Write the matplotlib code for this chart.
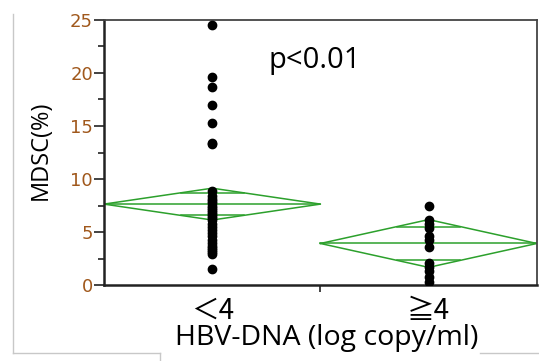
import matplotlib.pyplot as plt
from matplotlib.lines import Line2D
import numpy as np

plt.rcParams['font.family'] = ['Open Sans', 'Noto Sans CJK JP', 'DejaVu Sans']

# MDSC(%) per patient, by HBV-DNA group
low_vals = [24.5, 19.6, 18.7, 17.0, 15.3, 13.4, 13.3,
            8.9, 8.4, 8.1, 7.9, 7.7, 7.5, 7.3, 7.1, 6.9, 6.7, 6.5, 6.3, 6.1,
            5.8, 5.5, 5.2, 4.9, 4.6, 4.3, 4.0, 3.7, 3.5, 3.3, 3.1, 2.9, 1.5]
high_vals = [7.5, 6.1, 5.8, 5.4, 4.6, 4.3, 3.6, 2.1, 1.7, 1.3, 0.8, 0.3]

group_labels = ['＜4', '≧4']
group_means = [7.64, 3.93]
group_ci = [1.5, 2.25]   # half width of 95% CI

fig = plt.figure(figsize=(5.39, 3.61), dpi=100)
ax = fig.add_axes([0.193, 0.21, 0.803, 0.735])

xc = [1, 3]
for i, (m, h) in enumerate(zip(group_means, group_ci)):
    c = xc[i]
    ax.plot([c - 1, c, c + 1, c, c - 1], [m, m + h, m, m - h, m], color='#2ca02c', lw=1.1)
    ax.plot([c - 1, c + 1], [m, m], color='#2ca02c', lw=1.1)
    o = h / np.sqrt(2)
    w = 1 - o / h
    for yy in (m + o, m - o):
        ax.plot([c - w, c + w], [yy, yy], color='#2ca02c', lw=1.1)

ax.plot([1] * len(low_vals), low_vals, 'o', color='black', ms=6, zorder=3)
ax.plot([3] * len(high_vals), high_vals, 'o', color='black', ms=6, zorder=3)

ax.set_xlim(0, 4)
ax.set_ylim(0, 25)
ax.set_yticks(np.arange(0, 26, 5))
ax.set_yticks(np.arange(2.5, 25, 5), minor=True)
ax.set_yticklabels([str(v) for v in range(0, 26, 5)], family='DejaVu Sans')
ax.tick_params(axis='y', which='major', length=7, width=1.2, color='#222222',
               labelsize=13, labelcolor='#a0581c', pad=1)
ax.tick_params(axis='y', which='minor', length=4, width=1.2, color='#222222')
ax.set_xticks([2])
ax.set_xticklabels([''])
ax.tick_params(axis='x', length=5, width=1.2, color='#222222')
for s in ax.spines.values():
    s.set_linewidth(1.3)
    s.set_color('#444444')
ax.spines['left'].set_linewidth(1.8)
ax.spines['left'].set_color('#222222')
ax.spines['bottom'].set_linewidth(1.8)
ax.spines['bottom'].set_color('#222222')

for c, lab in zip(xc, group_labels):
    ax.text(c, -1.0, lab, ha='center', va='top', fontsize=20,
            family=['Noto Sans CJK JP', 'DejaVu Sans'])

ax.text(1.95, 21.2, 'p<0.01', ha='center', va='center', fontsize=21)
fig.text(0.607, 0.063, 'HBV-DNA (log copy/ml)', ha='center', va='center', fontsize=20.5)
fig.text(0.075, 0.585, 'MDSC(%)', ha='center', va='center', rotation=90, fontsize=17)

# light gray frame lines of the source screenshot
g = '#c8c8c8'
fig.add_artist(Line2D([0.024, 0.024], [0.022, 0.96], color=g, lw=1))
fig.add_artist(Line2D([0.024, 0.297], [0.022, 0.022], color=g, lw=1))
fig.add_artist(Line2D([0.297, 0.297], [0.0, 0.022], color=g, lw=1))
fig.add_artist(Line2D([0.89, 1.0], [0.022, 0.022], color=g, lw=1))

fig.savefig('out.png', dpi=100)
